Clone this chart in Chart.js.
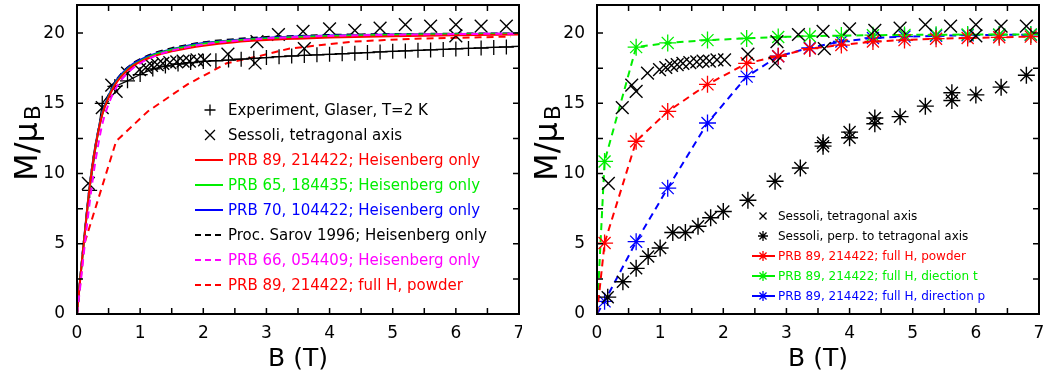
<!DOCTYPE html>
<html><head><meta charset="utf-8">
<script src="https://cdn.jsdelivr.net/npm/chart.js@4.4.1/dist/chart.umd.min.js"></script>
<style>
html,body{margin:0;padding:0;background:#fff;}
#wrap{position:relative;width:1044px;height:378px;overflow:hidden;}
.box{position:absolute;top:0;width:522px;height:378px;}
</style></head><body>
<div id="wrap">
<div class="box" style="left:0"><canvas id="c1" width="522" height="378"></canvas></div>
<div class="box" style="left:522px"><canvas id="c2" width="522" height="378"></canvas></div>
</div>
<script>
// ---------- tick labels ----------
const X_LABELS = ['0','1','2','3','4','5','6','7'];
const Y_LABELS = ['0','5','10','15','20'];

// ---------- left panel ----------
const glaserB = [0.2,0.4,0.6,0.8,1.0,1.2,1.4,1.6,1.8,2.0,2.2,2.4,2.6,2.8,3.0,3.2,3.4,3.6,3.8,4.0,4.2,4.4,4.6,4.8,5.0,5.2,5.4,5.6,5.8,6.0,6.2,6.4,6.6,6.8,7.0];
const glaserM = [8.8,15.0,16.2,16.6,17.05,17.45,17.65,17.8,17.9,17.98,18.03,18.08,18.14,18.2,18.26,18.32,18.37,18.41,18.45,18.49,18.53,18.57,18.61,18.66,18.7,18.73,18.77,18.8,18.84,18.87,18.91,18.94,18.98,19.01,19.05];

const tetraB = [0.18,0.40,0.55,0.62,0.80,0.99,1.09,1.18,1.27,1.36,1.47,1.58,1.68,1.78,1.90,2.02,2.39,2.82,2.85,3.19,3.58,3.60,4.00,4.40,4.80,5.20,5.60,6.00,6.00,6.40,6.80];
const tetraM = [9.3,14.7,16.3,15.85,17.15,17.4,17.55,17.7,17.75,17.85,17.9,17.95,18.0,18.0,18.1,18.1,18.5,17.87,19.4,19.9,20.12,18.9,20.3,20.2,20.35,20.6,20.5,20.6,19.8,20.5,20.5];

const modelB   = [0,0.05,0.1,0.15,0.2,0.25,0.3,0.4,0.5,0.6,0.7,0.8,0.9,1.0,1.25,1.5,1.75,2.0,2.5,3.0,3.5,4.0,5.0,6.0,7.0];
const prb89Heis = [0,2.45,4.75,6.9,9.0,10.7,12.1,14.2,15.4,16.3,16.9,17.35,17.7,17.95,18.4,18.7,18.92,19.1,19.35,19.5,19.6,19.68,19.78,19.85,19.9];
const prb65Heis = [0,2.45,4.75,6.9,9.0,10.7,12.1,14.2,15.45,16.35,16.95,17.4,17.75,18.0,18.5,18.82,19.05,19.25,19.47,19.62,19.72,19.8,19.88,19.92,19.95];
const prb70Heis = [0,2.5,4.8,7.0,9.1,10.8,12.2,14.3,15.55,16.45,17.05,17.5,17.85,18.1,18.55,18.85,19.1,19.3,19.5,19.65,19.75,19.82,19.9,19.94,19.96];
const sarovHeis = [0,2.5,4.8,7.0,9.1,10.8,12.2,14.3,15.6,16.5,17.1,17.55,17.9,18.15,18.62,18.93,19.15,19.35,19.57,19.72,19.8,19.87,19.93,19.96,19.98];
const prb66Heis = [0,1.9,4.0,6.0,7.9,9.6,11.1,13.5,14.95,15.95,16.65,17.15,17.55,17.85,18.4,18.75,19.0,19.2,19.45,19.62,19.72,19.8,19.88,19.93,19.96];

// ---------- full H (both panels) ----------
const fullB   = [0,0.12,0.62,1.12,1.75,2.37,2.87,3.37,3.87,4.37,4.87,5.37,5.87,6.37,6.87];
const powderM = [0,5.05,12.3,14.42,16.35,17.85,18.35,18.9,19.15,19.4,19.5,19.6,19.65,19.7,19.75];
const dirTM   = [0,10.86,19.0,19.3,19.5,19.62,19.72,19.78,19.82,19.85,19.87,19.88,19.9,19.9,19.9];
const dirPM   = [0,0.9,5.15,8.96,13.6,16.9,18.35,18.95,19.4,19.65,19.75,19.8,19.85,19.87,19.88];

// ---------- right panel: perpendicular ----------
const perpB = [0.17,0.41,0.62,0.81,1.0,1.2,1.4,1.6,1.8,2.0,2.39,2.82,3.22,3.58,3.58,4.0,4.0,4.4,4.4,4.8,5.2,5.62,5.62,6.0,6.4,6.8];
const perpM = [1.2,2.3,3.25,4.1,4.7,5.8,5.8,6.25,6.85,7.3,8.1,9.45,10.4,11.95,12.2,12.55,12.95,13.55,13.95,14.05,14.8,15.2,15.75,15.6,16.15,17.0];

const RED='#ff0000', GREEN='#00ee00', BLUE='#0000ff', BLACK='#000000', MAG='#ff00ff';
const FONT='DejaVu Sans';
Chart.defaults.font.family = FONT;
Chart.defaults.color = '#000';

const pts = (xs, ys) => xs.map((x, i) => ({x, y: ys[i]}));
const firstHidden = (n, r) => Array.from({length: n}, (_, i) => i === 0 ? 0 : r);
const noPad = s => { s.paddingTop = 0; s.paddingBottom = 0; s.paddingLeft = 0; s.paddingRight = 0; };

function scalesFor(yWidth) {
  return {
    x: {
      type: 'linear', min: 0, max: 7,
      grid: {display: false, drawTicks: false}, border: {display: false},
      ticks: {stepSize: 1, padding: 9, maxRotation: 0, autoSkip: false, font: {size: 17},
              callback: (v, i) => X_LABELS[i]},
      title: {display: true, text: 'B (T)', font: {size: 25}, padding: {top: 0, bottom: 4}, color: '#000'},
      afterFit: s => { s.height = 64; noPad(s); }
    },
    y: {
      type: 'linear', min: 0, max: 22,
      grid: {display: false, drawTicks: false}, border: {display: false},
      ticks: {stepSize: 5, padding: 12, includeBounds: false, font: {size: 17},
              callback: (v, i) => Y_LABELS[i]},
      afterFit: s => { s.width = yWidth; noPad(s); }
    }
  };
}

function decor(legend) {
  return {
    id: 'decor',
    afterDatasetsDraw(chart) {
      const {ctx, chartArea: a, scales: {x, y}} = chart;
      ctx.save();
      ctx.strokeStyle = '#000';
      ctx.lineWidth = 1.5;
      ctx.beginPath();
      for (let v = 0.5; v < 7; v += 0.5) {
        const px = x.getPixelForValue(v);
        ctx.moveTo(px, a.bottom); ctx.lineTo(px, a.bottom - 6);
        ctx.moveTo(px, a.top); ctx.lineTo(px, a.top + 6);
      }
      for (let v = 2.5; v < 22; v += 2.5) {
        const py = y.getPixelForValue(v);
        ctx.moveTo(a.left, py); ctx.lineTo(a.left + 6, py);
        ctx.moveTo(a.right, py); ctx.lineTo(a.right - 6, py);
      }
      ctx.stroke();
      ctx.lineWidth = 2;
      ctx.strokeRect(a.left, a.top, a.right - a.left, a.bottom - a.top);

      // legend
      ctx.textBaseline = 'middle';
      ctx.textAlign = 'left';
      legend.rows.forEach((r, i) => {
        const yy = legend.y0 + i * legend.dy;
        if (r.line) {
          ctx.save();
          ctx.strokeStyle = r.color; ctx.lineWidth = 2;
          ctx.setLineDash(r.dash || []);
          ctx.beginPath(); ctx.moveTo(legend.lx0, yy); ctx.lineTo(legend.lx1, yy); ctx.stroke();
          ctx.restore();
        }
        if (r.point) {
          ctx.save();
          ctx.strokeStyle = r.color; ctx.fillStyle = r.color; ctx.lineWidth = 1.3;
          Chart.helpers.drawPoint(ctx, {pointStyle: r.point, radius: r.pr, rotation: 0, borderWidth: 1.3}, legend.px, yy);
          ctx.restore();
        }
        ctx.fillStyle = r.color;
        ctx.font = legend.font + 'px ' + FONT;
        ctx.fillText(r.text, legend.tx, yy + 1);
      });

      // y title M/μ_B
      ctx.save();
      ctx.translate(a.left - 52, 143);
      ctx.rotate(-Math.PI / 2);
      ctx.fillStyle = '#000';
      ctx.textBaseline = 'alphabetic';
      ctx.font = '32px ' + FONT;
      const main = 'M/μ';
      const wm = ctx.measureText(main).width;
      ctx.font = '22px ' + FONT;
      const ws = ctx.measureText('B').width;
      const sx = -(wm + 2 + ws) / 2;
      ctx.font = '32px ' + FONT;
      ctx.fillText(main, sx, 12);
      ctx.font = '22px ' + FONT;
      ctx.fillText('B', sx + wm + 2, 15);
      ctx.restore();

      ctx.restore();
    }
  };
}

// ---------- left chart ----------
const curve = (label, ys, color, dash) => ({
  label, data: pts(modelB, ys), showLine: true, borderColor: color, borderWidth: 2,
  borderDash: dash || [], pointRadius: 0, cubicInterpolationMode: 'monotone', fill: false
});

new Chart(document.getElementById('c1'), {
  type: 'scatter',
  data: {datasets: [
    {label: 'PRB 89, 214422; full H, powder', data: pts(fullB, powderM), showLine: true,
     borderColor: RED, borderWidth: 2, borderDash: [7, 5], pointRadius: 0, order: 8},
    curve('PRB 66, 054409; Heisenberg only', prb66Heis, MAG, [7, 5]),
    curve('PRB 89, 214422; Heisenberg only', prb89Heis, RED),
    curve('PRB 65, 184435; Heisenberg only', prb65Heis, GREEN),
    curve('PRB 70, 104422; Heisenberg only', prb70Heis, BLUE),
    curve('Proc. Sarov 1996; Heisenberg only', sarovHeis, BLACK, [7, 5]),
    {label: 'Experiment, Glaser, T=2 K', data: pts(glaserB, glaserM), showLine: true,
     borderColor: BLACK, borderWidth: 1.2, pointStyle: 'cross', pointRadius: 7.5,
     pointBorderColor: BLACK, pointBorderWidth: 1.3},
    {label: 'Sessoli, tetragonal axis', data: pts(tetraB, tetraM), showLine: false,
     pointStyle: 'crossRot', pointRadius: 9, pointBorderColor: BLACK, pointBorderWidth: 1.4}
  ]},
  options: {
    responsive: false, animation: false, events: [],
    layout: {autoPadding: false, padding: {top: 5, right: 3, left: 0, bottom: 0}},
    plugins: {legend: {display: false}, tooltip: {enabled: false}},
    scales: scalesFor(77)
  },
  plugins: [decor({
    y0: 110, dy: 25, lx0: 195, lx1: 223, px: 210, tx: 228, font: 15,
    rows: [
      {text: 'Experiment, Glaser, T=2 K', color: BLACK, point: 'cross', pr: 5.5},
      {text: 'Sessoli, tetragonal axis', color: BLACK, point: 'crossRot', pr: 7},
      {text: 'PRB 89, 214422; Heisenberg only', color: RED, line: true},
      {text: 'PRB 65, 184435; Heisenberg only', color: GREEN, line: true},
      {text: 'PRB 70, 104422; Heisenberg only', color: BLUE, line: true},
      {text: 'Proc. Sarov 1996; Heisenberg only', color: BLACK, line: true, dash: [6, 4]},
      {text: 'PRB 66, 054409; Heisenberg only', color: MAG, line: true, dash: [6, 4]},
      {text: 'PRB 89, 214422; full H, powder', color: RED, line: true, dash: [6, 4]}
    ]
  })]
});

// ---------- right chart ----------
const fullSet = (label, ys, color) => ({
  label, data: pts(fullB, ys), showLine: true, borderColor: color, borderWidth: 2,
  borderDash: [7, 5], pointStyle: 'star', pointRadius: firstHidden(fullB.length, 8.5),
  pointBorderColor: color, pointBorderWidth: 1.3
});

new Chart(document.getElementById('c2'), {
  type: 'scatter',
  data: {datasets: [
    {label: 'Sessoli, tetragonal axis', data: pts(tetraB, tetraM), showLine: false,
     pointStyle: 'crossRot', pointRadius: 9, pointBorderColor: BLACK, pointBorderWidth: 1.4},
    {label: 'Sessoli, perp. to tetragonal axis', data: pts(perpB, perpM), showLine: false,
     pointStyle: 'star', pointRadius: 8.5, pointBorderColor: BLACK, pointBorderWidth: 1.4},
    fullSet('PRB 89, 214422; full H, powder', powderM, RED),
    fullSet('PRB 89, 214422; full H, diection t', dirTM, GREEN),
    fullSet('PRB 89, 214422; full H, direction p', dirPM, BLUE)
  ]},
  options: {
    responsive: false, animation: false, events: [],
    layout: {autoPadding: false, padding: {top: 5, right: 5, left: 0, bottom: 0}},
    plugins: {legend: {display: false}, tooltip: {enabled: false}},
    scales: scalesFor(75)
  },
  plugins: [decor({
    y0: 216, dy: 20, lx0: 230, lx1: 253, px: 241, tx: 256, font: 12,
    rows: [
      {text: 'Sessoli, tetragonal axis', color: BLACK, point: 'crossRot', pr: 5},
      {text: 'Sessoli, perp. to tetragonal axis', color: BLACK, point: 'star', pr: 5},
      {text: 'PRB 89, 214422; full H, powder', color: RED, line: true, point: 'star', pr: 5},
      {text: 'PRB 89, 214422; full H, diection t', color: GREEN, line: true, point: 'star', pr: 5},
      {text: 'PRB 89, 214422; full H, direction p', color: BLUE, line: true, point: 'star', pr: 5}
    ]
  })]
});
</script>
</body></html>
